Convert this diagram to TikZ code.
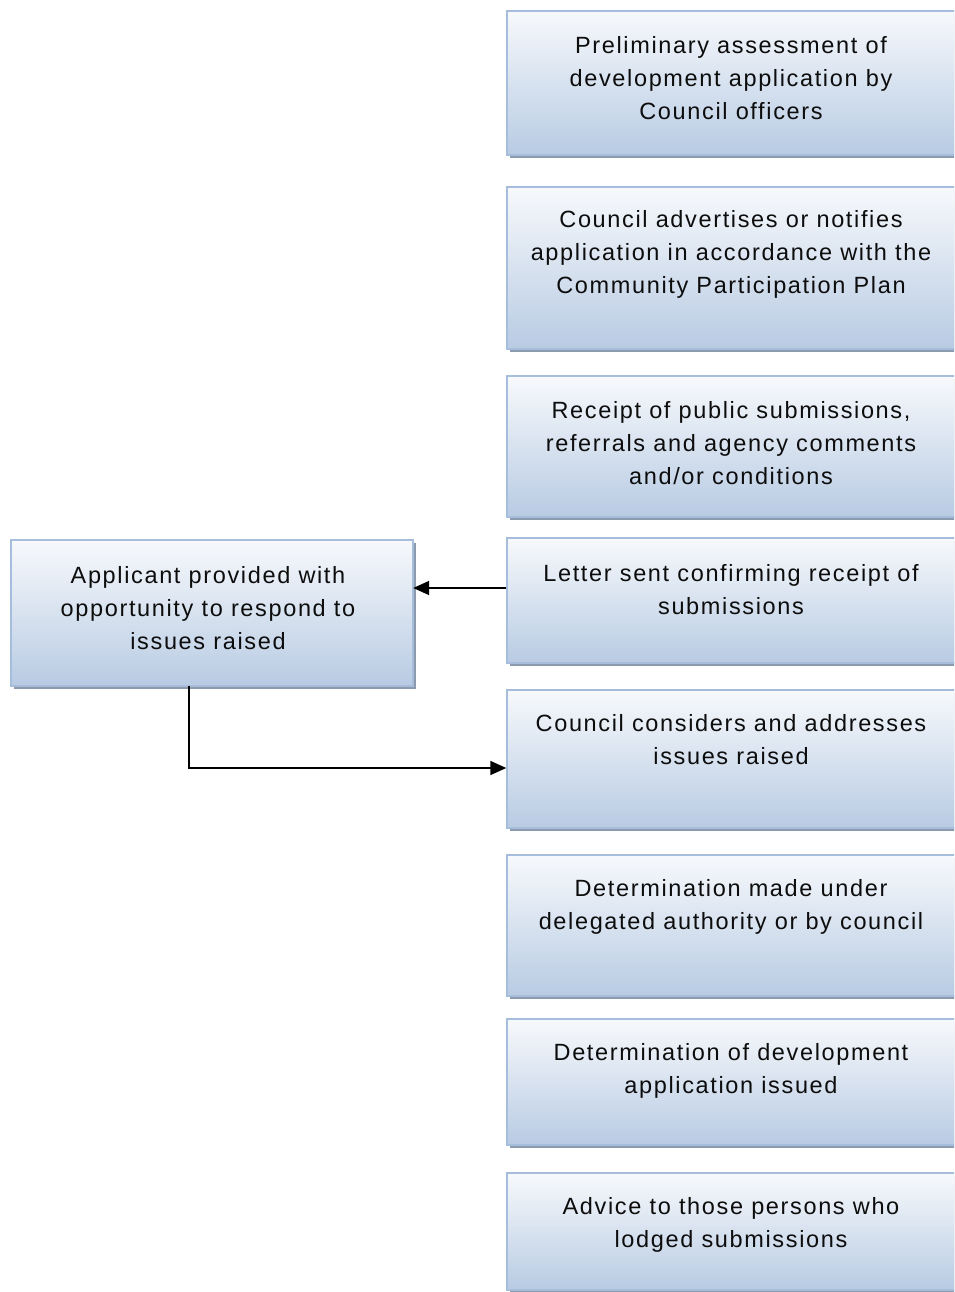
\documentclass[tikz,border=0pt]{standalone}
\usepackage{fontspec}
\setmainfont{Liberation Sans}[LetterSpace=7]
\usetikzlibrary{shadows,arrows.meta}
\definecolor{boxtop}{HTML}{F7F9FC}
\definecolor{boxbot}{HTML}{B8CBE3}
\definecolor{boxline}{HTML}{A6BEDC}
\definecolor{shadowc}{HTML}{8C9AAD}
\definecolor{txtc}{HTML}{0D0D0D}
\tikzset{
  flowbox/.style={draw=boxline, line width=1.5pt, top color=boxtop, bottom color=boxbot,
    drop shadow={shadow xshift=2.5pt, shadow yshift=-3pt, fill=shadowc, opacity=1}},
  flowtxt/.style={text=txtc, align=center, inner sep=0pt,
    font=\fontsize{23.5}{33}\selectfont},
  conn/.style={line width=1.6pt, -{Triangle[length=16pt,width=14pt]}}
}
\begin{document}
\begin{tikzpicture}[x=1pt,y=-1pt]
\clip (0,0) rectangle (954,1292);
\fill[white] (0,0) rectangle (954,1292);
% right column boxes
\path[flowbox] (507,11) rectangle (956,155);
\node (b1) at (731,83) [minimum width=449pt, minimum height=144pt] {};
\path[flowbox] (507,187) rectangle (956,349);
\node (b2) at (731,268) [minimum width=449pt, minimum height=162pt] {};
\path[flowbox] (507,376) rectangle (956,517);
\node (b3) at (731,446.5) [minimum width=449pt, minimum height=141pt] {};
\path[flowbox] (507,538) rectangle (956,663);
\node (b4) at (731,600.5) [minimum width=449pt, minimum height=125pt, inner sep=0pt] {};
\path[flowbox] (507,690) rectangle (956,828);
\node (b5) at (731,759) [minimum width=449pt, minimum height=138pt, inner sep=0pt] {};
\path[flowbox] (507,855) rectangle (956,996);
\node (b6) at (731,925.5) [minimum width=449pt, minimum height=141pt] {};
\path[flowbox] (507,1019) rectangle (956,1145);
\node (b7) at (731,1082) [minimum width=449pt, minimum height=126pt] {};
\path[flowbox] (507,1173) rectangle (956,1290);
\node (b8) at (731,1231.5) [minimum width=449pt, minimum height=117pt] {};
% left box
\path[flowbox] (11,540) rectangle (413,686);
\node (a) at (212,613) [minimum width=402pt, minimum height=146pt, inner sep=0pt] {};
% texts
\node[flowtxt] (t1) at (731,78) {Preliminary assessment of\\development application by\\Council officers};
\node[flowtxt] (t2) at (731,254) {Council advertises or notifies\\application in accordance with the\\Community Participation Plan};
\node[flowtxt] (t3) at (731,443) {Receipt of public submissions,\\referrals and agency comments\\and/or conditions};
\node[flowtxt] (t4) at (731,590) {Letter sent confirming receipt of\\submissions};
\node[flowtxt] (t5) at (731,740) {Council considers and addresses\\issues raised};
\node[flowtxt] (t6) at (731,907) {Determination made under\\delegated authority or by council};
\node[flowtxt] (t7) at (731,1071) {Determination of development\\application issued};
\node[flowtxt] (t8) at (731,1225) {Advice to those persons who\\lodged submissions};
\node[flowtxt] (ta) at (208,608) {Applicant provided with\\opportunity to respond to\\issues raised};
% connectors
\draw[conn] (b4.west |- 0,588) -- (a.east |- 0,588);
\draw[conn] (a.south -| 189,0) |- (b5.west |- 0,768);
\end{tikzpicture}
\end{document}
